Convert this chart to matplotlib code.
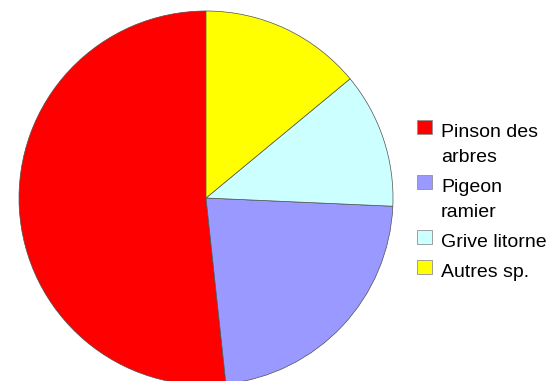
import matplotlib.pyplot as plt
from matplotlib.patches import Rectangle

# données (%)
especes = ['Pinson des\narbres', 'Pigeon\nramier', 'Grive litorne', 'Autres sp.']
parts = [51.7, 22.6, 11.7, 14.0]
couleurs = ['#ff0000', '#9999ff', '#ccffff', '#ffff00']

plt.rcParams['font.family'] = ['Liberation Sans', 'DejaVu Sans']

W, H = 553, 381
fig = plt.figure(figsize=(W / 100, H / 100), dpi=100)

# camembert : centre (206, 198), rayon 187 px
ax = fig.add_axes([19 / W, (H - 385) / H, 374 / W, 374 / H])
ax.pie(parts, colors=couleurs, startangle=90, counterclock=True,
       wedgeprops=dict(edgecolor='#505050', linewidth=0.5))
ax.set_xlim(-1, 1)
ax.set_ylim(-1, 1)
ax.set_aspect('equal')
ax.axis('off')

# légende dessinée à la main (carré aligné sur la première ligne)
y_haut = 120
for label, c in zip(especes, couleurs):
    fig.patches.append(Rectangle((417 / W, 1 - (y_haut + 14) / H), 15 / W, 14 / H,
                                 transform=fig.transFigure, facecolor=c,
                                 edgecolor='#909090', linewidth=0.6))
    lignes = label.split('\n')
    for i, ligne in enumerate(lignes):
        fig.text(441 / W, 1 - (y_haut + 17 + 25 * i) / H, ligne,
                 fontsize=14, va='baseline', ha='left', color='black')
    y_haut += 25 * (len(lignes) - 1) + 30

fig.savefig('out.png', dpi=100, facecolor='white')
